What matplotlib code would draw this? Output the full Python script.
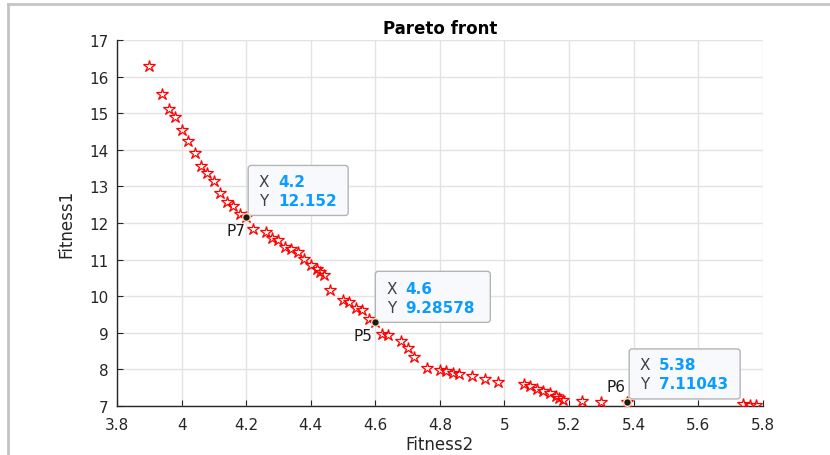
import numpy as np
import matplotlib
matplotlib.use('Agg')
import matplotlib.pyplot as plt
from matplotlib.patches import FancyBboxPatch
from matplotlib.lines import Line2D
from matplotlib.transforms import ScaledTranslation

plt.rcParams['font.family'] = ['DejaVu Sans']

# --- Pareto front samples ---
fitness2 = [3.90, 3.94, 3.96, 3.98, 4.00, 4.02, 4.04, 4.06, 4.08, 4.10,
            4.12, 4.14, 4.16, 4.18, 4.20, 4.22, 4.26, 4.28, 4.30, 4.32,
            4.34, 4.36, 4.38, 4.40, 4.42, 4.43, 4.44, 4.46, 4.50, 4.52,
            4.54, 4.56, 4.58, 4.60, 4.62, 4.64, 4.68, 4.70, 4.72, 4.76,
            4.80, 4.82, 4.84, 4.86, 4.90, 4.94, 4.98, 5.06, 5.08, 5.10,
            5.12, 5.14, 5.16, 5.17, 5.18, 5.24, 5.30, 5.38, 5.74, 5.76,
            5.78]
fitness1 = [16.28, 15.52, 15.11, 14.90, 14.55, 14.24, 13.92, 13.55, 13.38, 13.14,
            12.82, 12.58, 12.47, 12.25, 12.152, 11.84, 11.76, 11.58, 11.53, 11.35,
            11.29, 11.22, 11.03, 10.85, 10.74, 10.65, 10.58, 10.18, 9.90, 9.83,
            9.67, 9.62, 9.38, 9.28578, 8.97, 8.94, 8.78, 8.58, 8.35, 8.05,
            7.99, 7.96, 7.90, 7.87, 7.82, 7.74, 7.66, 7.60, 7.54, 7.47,
            7.42, 7.35, 7.28, 7.22, 7.17, 7.13, 7.10, 7.11043, 7.06, 7.04,
            7.02]

# --- selected solutions ---
tip_names = ["P7", "P5", "P6"]
tip_x = [4.2, 4.6, 5.38]
tip_y = [12.152, 9.28578, 7.11043]
tip_xtxt = ["4.2", "4.6", "5.38"]
tip_ytxt = ["12.152", "9.28578", "7.11043"]

xticks = [3.8, 4, 4.2, 4.4, 4.6, 4.8, 5, 5.2, 5.4, 5.6, 5.8]
xticklabels = ["3.8", "4", "4.2", "4.4", "4.6", "4.8", "5", "5.2", "5.4", "5.6", "5.8"]
yticks = list(range(7, 18))

fig = plt.figure(figsize=(8.3, 4.56), dpi=100)
ax = fig.add_axes([0.141, 0.1075, 0.778, 0.8025])

ax.plot(fitness2, fitness1, linestyle='none', marker='*', markersize=9,
        markerfacecolor='none', markeredgecolor='red', markeredgewidth=0.9,
        zorder=3)

ax.set_xlim(3.8, 5.8)
ax.set_ylim(7, 17)
ax.set_xticks(xticks)
ax.set_xticklabels(xticklabels)
ax.set_yticks(yticks)
ax.tick_params(direction='in', length=4, width=0.8, labelsize=11,
               colors='#262626', labelcolor='#262626')
ax.tick_params(axis='x', pad=8)
ax.tick_params(axis='y', pad=6)
ax.grid(True, color='#e3e3e3', linewidth=1.0, zorder=0)
ax.set_axisbelow(True)
for s in ['top', 'right']:
    ax.spines[s].set_visible(False)
for s in ['left', 'bottom']:
    ax.spines[s].set_color('#262626')
    ax.spines[s].set_linewidth(1.0)

ax.set_xlabel("Fitness2", fontsize=12, color='#262626', labelpad=2)
ax.set_ylabel("Fitness1", fontsize=12, color='#262626', labelpad=10)
ax.set_title("Pareto front", fontsize=12, fontweight='bold', pad=5)

# datatips: box and label offsets in pixels from the marked point
tip_box = [(2, 2, 100, 50), (0, 0, 115, 51), (2, 3, 111, 50)]
name_off = [(-1, -6, 'top'), (-3, -6, 'top'), (-2, 8, 'bottom')]

for name, x, y, xt, yt, (bx, by, bw, bh), (nx, ny, nva) in zip(
        tip_names, tip_x, tip_y, tip_xtxt, tip_ytxt, tip_box, name_off):
    tr = ScaledTranslation(x, y, ax.transData)
    box = FancyBboxPatch((bx, by), bw, bh,
                         boxstyle='round,pad=0,rounding_size=3',
                         facecolor='#f8f9fd', edgecolor='#b4b4b4',
                         linewidth=1.0, transform=tr, zorder=5, clip_on=False)
    ax.add_patch(box)
    ax.text(bx + 16, by + 34, "X", transform=tr, fontsize=11,
            color='#404040', ha='center', va='center', zorder=6)
    ax.text(bx + 16, by + 15, "Y", transform=tr, fontsize=11,
            color='#404040', ha='center', va='center', zorder=6)
    ax.text(bx + 30, by + 34, xt, transform=tr, fontsize=11,
            fontweight='bold', color='#0a9cff', ha='left', va='center', zorder=6)
    ax.text(bx + 30, by + 15, yt, transform=tr, fontsize=11,
            fontweight='bold', color='#0a9cff', ha='left', va='center', zorder=6)
    ax.plot(x, y, marker='o', markersize=5.5, markerfacecolor='#1a1a1a',
            markeredgecolor='#f3dfb0', markeredgewidth=1.0, zorder=7,
            clip_on=False)
    ax.text(nx, ny, name, transform=tr, fontsize=11, color='#1a1a1a',
            ha='right', va=nva, zorder=6)

# window frame edges
fig.add_artist(Line2D([8 / 830, 1], [1 - 5 / 456, 1 - 5 / 456],
                      color='#c4c4c4', linewidth=2, transform=fig.transFigure))
fig.add_artist(Line2D([8 / 830, 8 / 830], [0, 1 - 5 / 456],
                      color='#c4c4c4', linewidth=2, transform=fig.transFigure))

fig.savefig("out.png", dpi=100)
